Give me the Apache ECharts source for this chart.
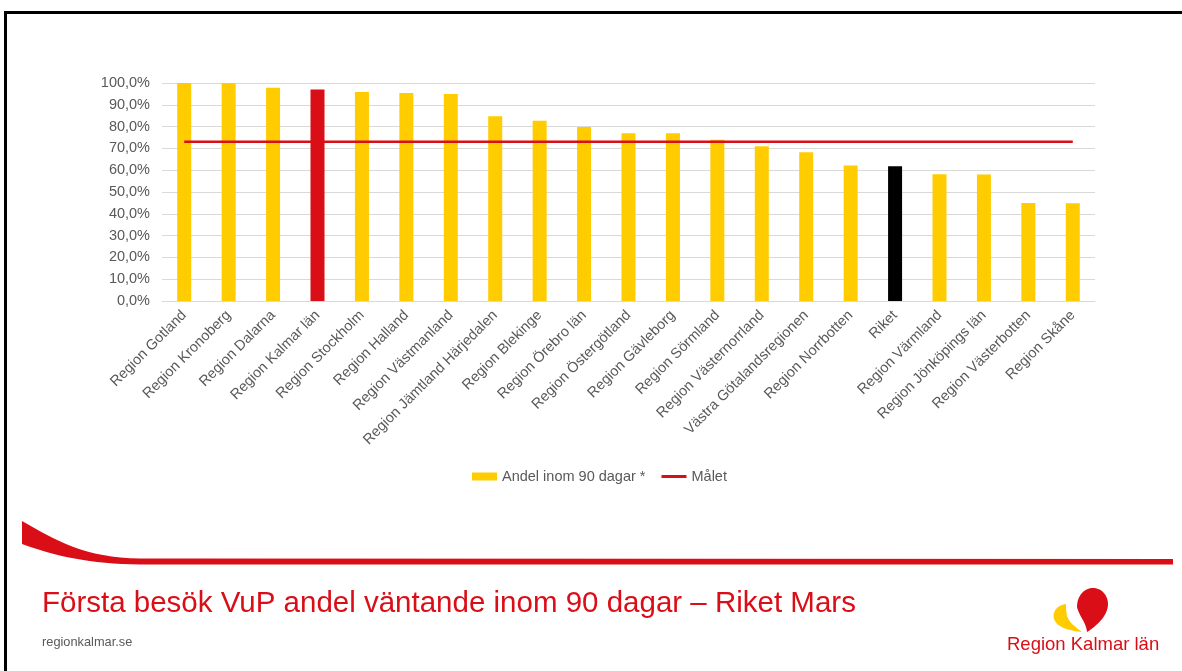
<!DOCTYPE html>
<html>
<head>
<meta charset="utf-8">
<script src="https://cdn.jsdelivr.net/npm/echarts@6/dist/echarts.min.js"></script>
<style>
  html, body { margin: 0; padding: 0; background: #fff; }
  #chart { width: 1182px; height: 671px; }
</style>
</head>
<body>
<div id="chart"></div>
<script>
// regioner, sorterade efter andel
var categories = [
  'Region Gotland', 'Region Kronoberg', 'Region Dalarna', 'Region Kalmar län',
  'Region Stockholm', 'Region Halland', 'Region Västmanland', 'Region Jämtland Härjedalen',
  'Region Blekinge', 'Region Örebro län', 'Region Östergötland', 'Region Gävleborg',
  'Region Sörmland', 'Region Västernorrland', 'Västra Götalandsregionen', 'Region Norrbotten',
  'Riket', 'Region Värmland', 'Region Jönköpings län', 'Region Västerbotten', 'Region Skåne'
];
// andel inom 90 dagar (%)
var andel = [100, 100, 97.8, 97.0, 95.9, 95.4, 95.0, 84.7, 82.7, 79.8, 76.9, 76.9,
  74.0, 71.0, 68.2, 62.2, 61.8, 58.1, 58.0, 45.0, 44.8];
// målet (%)
var malet = [73, 73, 73, 73, 73, 73, 73, 73, 73, 73, 73, 73, 73, 73, 73, 73, 73, 73, 73, 73, 73];
var yTicks = [0, 10, 20, 30, 40, 50, 60, 70, 80, 90, 100];

var YELLOW = '#FFCC00';
var RED = '#DA0E17';
var specialColors = { 'Region Kalmar län': RED, 'Riket': '#000000' };
var FONT = '"Liberation Sans", Arial, sans-serif';

var barData = andel.map(function (v, i) {
  var c = specialColors[categories[i]];
  return c ? { value: v, itemStyle: { color: c } } : v;
});

// bezier -> punkter, för dekorationer
function bez(p0, p1, p2, p3) {
  var pts = [];
  for (var k = 0; k <= 16; k++) {
    var t = k / 16, u = 1 - t;
    pts.push([
      u * u * u * p0[0] + 3 * u * u * t * p1[0] + 3 * u * t * t * p2[0] + t * t * t * p3[0],
      u * u * u * p0[1] + 3 * u * u * t * p1[1] + 3 * u * t * t * p2[1] + t * t * t * p3[1]
    ]);
  }
  return pts;
}
function shape(segs) {
  var pts = [];
  segs.forEach(function (s) {
    pts = pts.concat(s.length === 4 ? bez(s[0], s[1], s[2], s[3]) : s);
  });
  return pts;
}

var swoosh = shape([
  [[22, 521], [55, 540], [85, 558], [140, 558.5]],
  [[1173, 559], [1173, 564.5]],
  [[140, 564.5], [90, 564], [55, 556], [22, 544]]
]);
var heartRed = shape([
  [[1077, 607], [1077, 595], [1085, 588], [1093, 588]],
  [[1093, 588], [1103, 588], [1108, 597], [1108, 604]],
  [[1108, 604], [1108, 615], [1098, 625], [1087, 632]],
  [[1087, 632], [1086, 622], [1079, 616], [1077, 607]]
]);
var heartYellow = shape([
  [[1066, 604], [1057, 605], [1052, 612], [1054, 619]],
  [[1054, 619], [1057, 628], [1071, 631], [1082, 632]],
  [[1082, 632], [1075, 627], [1069, 622], [1067, 616]],
  [[1067, 616], [1066, 611], [1066, 607], [1066, 604]]
]);

var myChart = echarts.init(document.getElementById('chart'));
var option = {
  animation: false,
  textStyle: { fontFamily: FONT },
  grid: { left: 162, right: 87, top: 83, bottom: 370 },
  legend: {
    top: 464,
    left: 467,
    itemWidth: 25,
    itemHeight: 8,
    itemGap: 16,
    textStyle: { color: '#595959', fontSize: 14.5, fontFamily: FONT },
    data: [
      { name: 'Andel inom 90 dagar *', icon: 'rect', itemStyle: { color: YELLOW } },
      { name: 'Målet', icon: 'path://M0,0 L25,0 L25,3 L0,3 Z', itemStyle: { color: RED } }
    ]
  },
  xAxis: {
    type: 'category',
    data: categories,
    axisLine: { lineStyle: { color: '#d9d9d9' } },
    axisTick: { show: false },
    axisLabel: { interval: 0, rotate: 45, margin: 12, color: '#595959', fontSize: 14.5, fontFamily: FONT }
  },
  yAxis: {
    type: 'value',
    min: yTicks[0],
    max: yTicks[yTicks.length - 1],
    interval: 10,
    axisLine: { show: false },
    axisTick: { show: false },
    splitLine: { lineStyle: { color: '#d9d9d9' } },
    axisLabel: {
      color: '#595959', fontSize: 14.5, margin: 12, fontFamily: FONT,
      formatter: function (v) { return v.toFixed(1).replace('.', ',') + '%'; }
    }
  },
  series: [
    {
      name: 'Andel inom 90 dagar *',
      type: 'bar',
      barWidth: 14,
      itemStyle: { color: YELLOW },
      data: barData
    },
    {
      name: 'Målet',
      type: 'line',
      symbol: 'none',
      lineStyle: { color: RED, width: 2.5 },
      itemStyle: { color: RED },
      data: malet
    }
  ],
  graphic: [
    // ram
    { type: 'rect', shape: { x: 4, y: 11, width: 1178, height: 3 }, style: { fill: '#000' } },
    { type: 'rect', shape: { x: 4, y: 11, width: 3, height: 660 }, style: { fill: '#000' } },
    // röd svepande linje
    { type: 'polygon', shape: { points: swoosh }, style: { fill: RED } },
    {
      type: 'text', left: 42, top: 589,
      style: { text: 'Första besök VuP andel väntande inom 90 dagar – Riket Mars', fill: RED, font: '29.5px ' + FONT }
    },
    {
      type: 'text', left: 42, top: 636,
      style: { text: 'regionkalmar.se', fill: '#595959', font: '12.8px ' + FONT }
    },
    // logotyp
    { type: 'polygon', shape: { points: heartRed }, style: { fill: RED } },
    { type: 'polygon', shape: { points: heartYellow }, style: { fill: YELLOW } },
    {
      type: 'text', left: 1007, top: 635,
      style: { text: 'Region Kalmar län', fill: RED, font: '18.5px ' + FONT }
    }
  ]
};
myChart.setOption(option);
</script>
</body>
</html>
